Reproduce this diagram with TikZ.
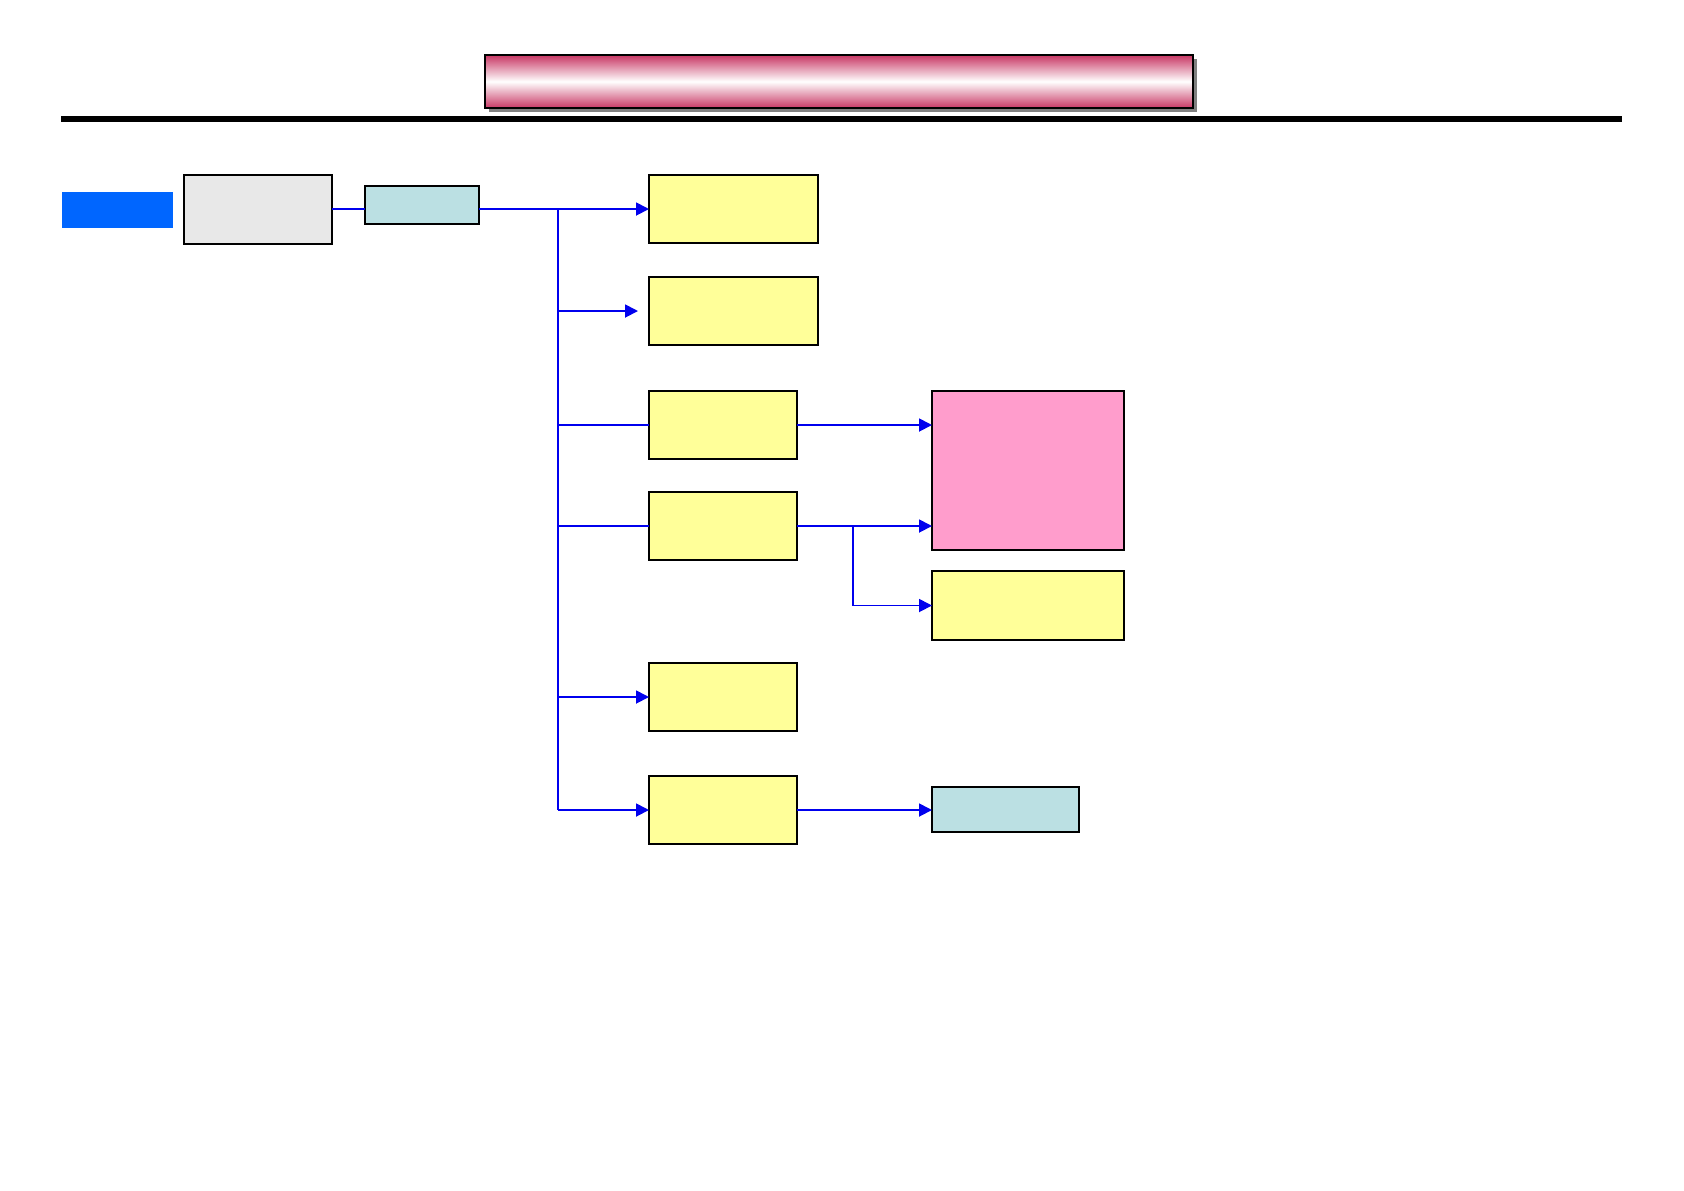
\documentclass[tikz,border=0pt]{standalone}
\usetikzlibrary{arrows.meta,shadows}
\definecolor{ybox}{HTML}{FFFF99}
\definecolor{gbox}{HTML}{E8E8E8}
\definecolor{lbbox}{HTML}{BBE0E3}
\definecolor{pbox}{HTML}{FF9DCC}
\definecolor{bluefill}{HTML}{0066FF}
\definecolor{conn}{HTML}{0000EE}
\definecolor{barpink}{RGB}{200,55,100}
\tikzset{
  boxbase/.style={draw=black, line width=1pt, anchor=north west, inner sep=0pt, outer sep=0pt},
  yellowbox/.style={boxbase, fill=ybox},
  graybox/.style={boxbase, fill=gbox},
  lightbox/.style={boxbase, fill=lbbox},
  pinkbox/.style={boxbase, fill=pbox},
  link/.style={draw=conn, line width=0.9pt},
  arrowlink/.style={link, -{Triangle[length=6.5pt,width=6.5pt]}},
}
\begin{document}
\begin{tikzpicture}[x=0.5pt,y=-0.5pt]
\useasboundingbox[fill=white] (0,0) rectangle (1684,1190);
% title bar
\node[anchor=north west, inner sep=0pt, outer sep=0pt, minimum width=354pt, minimum height=26.5pt,
      draw=black, line width=1pt, top color=barpink, bottom color=barpink, middle color=white,
      drop shadow={shadow xshift=2pt, shadow yshift=-2pt, fill=black!50, opacity=1}]
      (title) at (485,55) {};
\coordinate (ruleL) at (61,119);
\coordinate (ruleR) at (1622,119);
\draw[line width=2.8pt] (ruleL) -- (ruleR);
% left nodes
\node[anchor=north west, fill=bluefill, inner sep=0pt, minimum width=55.5pt, minimum height=18pt] (tag) at (62,192) {};
\node[graybox, minimum width=74pt, minimum height=34.5pt] (gray) at (184,175) {};
\node[lightbox, minimum width=57pt, minimum height=19pt] (lb1) at (365,186) {};
% yellow column
\node[yellowbox, minimum width=84.5pt, minimum height=34pt] (y1) at (649,175) {};
\node[yellowbox, minimum width=84.5pt, minimum height=34pt] (y2) at (649,277) {};
\node[yellowbox, minimum width=74pt, minimum height=34pt] (y3) at (649,391) {};
\node[yellowbox, minimum width=74pt, minimum height=34pt] (y4) at (649,492) {};
\node[yellowbox, minimum width=74pt, minimum height=34pt] (y5) at (649,663) {};
\node[yellowbox, minimum width=74pt, minimum height=34pt] (y6) at (649,776) {};
% right nodes
\node[pinkbox, minimum width=96pt, minimum height=79.5pt] (pink) at (932,391) {};
\node[yellowbox, minimum width=96pt, minimum height=34.5pt] (y7) at (932,571) {};
\node[lightbox, minimum width=73.5pt, minimum height=22.5pt] (lb2) at (932,787) {};
% trunk coordinates
\coordinate (trunkx) at (558,0);
\coordinate (branchx) at (853,0);
% connectors
\draw[link] (gray.east |- y1.west) -- (lb1.west |- y1.west);
\draw[arrowlink] (lb1.east |- y1.west) -- (y1.west);
\draw[link] (trunkx |- y1.west) -- (trunkx |- y6.west);
\draw[arrowlink] (trunkx |- y2.west) -- ([xshift=-5.5pt]y2.west);
\draw[link] (trunkx |- y3.west) -- (y3.west);
\draw[link] (trunkx |- y4.west) -- (y4.west);
\draw[arrowlink] (trunkx |- y5.west) -- (y5.west);
\draw[arrowlink] (trunkx |- y6.west) -- (y6.west);
\draw[arrowlink] (y3.east) -- (pink.west |- y3.east);
\draw[arrowlink] (y4.east) -- (pink.west |- y4.east);
\draw[arrowlink] (branchx |- y4.east) -- (branchx |- y7.west) -- (y7.west);
\draw[arrowlink] (y6.east) -- (lb2.west |- y6.east);
\end{tikzpicture}
\end{document}
